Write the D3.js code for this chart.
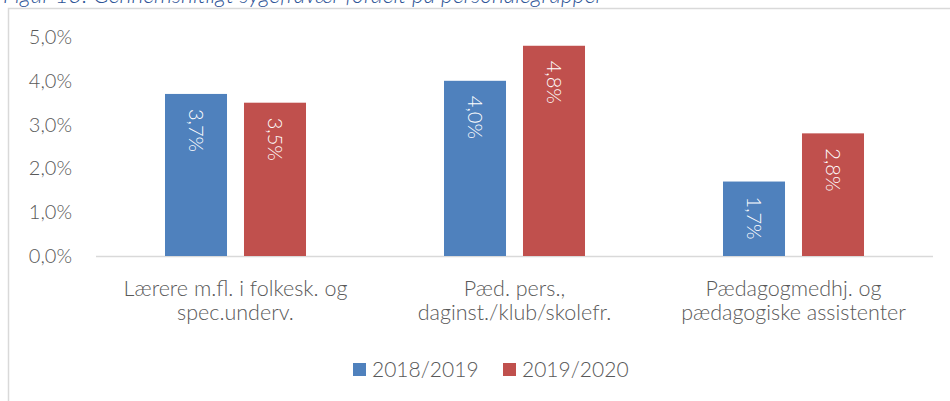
<!DOCTYPE html>
<html>

<head>
    <meta charset="utf-8">
    <script src="https://d3js.org/d3.v7.min.js"></script>
    <title>sygefravaer</title>
    <style>
        body {
            margin: 0;
            background: #fff;
        }

        text {
            font-family: Lato, "Open Sans", sans-serif;
            font-weight: 300;
        }
    </style>
</head>

<body>
    <div id="chart-container"></div>

    <script>
        const title = "Figur 13: Gennemsnitligt sygefravær fordelt på personalegrupper";
        const categories = [
            "Lærere m.fl. i folkesk. og\nspec.underv.",
            "Pæd. pers.,\ndaginst./klub/skolefr.",
            "Pædagogmedhj. og\npædagogiske assistenter"
        ];
        const seriesNames = ["2018/2019", "2019/2020"];
        const values2018 = [0.037, 0.040, 0.017];
        const values2019 = [0.035, 0.048, 0.028];
        const yTicks = [0, 0.01, 0.02, 0.03, 0.04, 0.05];
        const colors = ["#4f81bd", "#c0504d"];

        const width = 950;
        const height = 401;

        const locale = d3.formatLocale({ decimal: ",", thousands: ".", grouping: [3], currency: ["", " kr."] });
        const pct = locale.format(".1%");

        const series = [values2018, values2019];
        const data = categories.map((c, i) => ({
            cat: c,
            vals: seriesNames.map((s, j) => ({ key: s, value: series[j][i] }))
        }));

        const svg = d3.create("svg")
            .attr("width", width)
            .attr("height", height);

        // chart frame
        svg.append("rect")
            .attr("x", 8.5).attr("y", 8.5)
            .attr("width", 1000).attr("height", 500)
            .attr("fill", "none")
            .attr("stroke", "#d9d9d9")
            .attr("stroke-width", 1.5);

        // caption sits above the frame, partly outside the picture
        svg.append("text")
            .attr("x", 3)
            .attr("y", 2.5)
            .attr("font-size", 23)
            .attr("font-style", "italic")
            .attr("fill", "#2f5597")
            .text(title);

        const x0 = d3.scaleBand()
            .domain(categories)
            .range([96, 933])
            .paddingInner(0.4946)
            .paddingOuter(0.2473);

        const x1 = d3.scaleBand()
            .domain(seriesNames)
            .range([0, x0.bandwidth()])
            .paddingInner(0.215);

        const y = d3.scaleLinear()
            .domain([0, 0.05])
            .range([256, 37]);

        // y axis labels
        svg.append("g")
            .selectAll("text")
            .data(yTicks)
            .join("text")
            .attr("x", 72)
            .attr("y", d => y(d))
            .attr("dy", "0.35em")
            .attr("text-anchor", "end")
            .attr("font-size", 20)
            .attr("fill", "#595959")
            .text(d => pct(d));

        // baseline
        svg.append("line")
            .attr("x1", 96).attr("x2", 933)
            .attr("y1", y(0) + 0.5).attr("y2", y(0) + 0.5)
            .attr("stroke", "#d9d9d9")
            .attr("stroke-width", 1.5);

        const groups = svg.append("g")
            .selectAll("g")
            .data(data)
            .join("g")
            .attr("transform", d => `translate(${x0(d.cat)},0)`);

        groups.selectAll("rect")
            .data(d => d.vals)
            .join("rect")
            .attr("x", d => x1(d.key))
            .attr("y", d => y(d.value))
            .attr("width", x1.bandwidth())
            .attr("height", d => y(0) - y(d.value))
            .attr("fill", (d, i) => colors[i]);

        groups.selectAll("text.val")
            .data(d => d.vals)
            .join("text")
            .attr("class", "val")
            .attr("transform", d => `translate(${x1(d.key) + x1.bandwidth() / 2},${y(d.value) + 15}) rotate(90)`)
            .attr("dy", "0.35em")
            .attr("font-size", 20)
            .attr("fill", "#fff")
            .text(d => pct(d.value));

        // category labels
        svg.append("g")
            .selectAll("text")
            .data(categories)
            .join("text")
            .attr("x", d => x0(d) + x0.bandwidth() / 2)
            .attr("y", 288)
            .attr("text-anchor", "middle")
            .attr("font-size", 21.5)
            .attr("fill", "#595959")
            .each(function (d) {
                const lines = d.split("\n");
                d3.select(this).selectAll("tspan")
                    .data(lines)
                    .join("tspan")
                    .attr("x", x0(d) + x0.bandwidth() / 2)
                    .attr("dy", (l, i) => i === 0 ? "0.35em" : 24.5)
                    .text(l => l);
            });

        // legend
        const legendX = [353, 503];
        const legend = svg.append("g")
            .selectAll("g")
            .data(seriesNames)
            .join("g")
            .attr("transform", (d, i) => `translate(${legendX[i]},363)`);

        legend.append("rect")
            .attr("width", 13)
            .attr("height", 13)
            .attr("fill", (d, i) => colors[i]);

        legend.append("text")
            .attr("x", 19)
            .attr("y", 7)
            .attr("dy", "0.35em")
            .attr("font-size", 21)
            .attr("fill", "#595959")
            .text(d => d);

        document.getElementById("chart-container").appendChild(svg.node());
    </script>

</body>

</html>
